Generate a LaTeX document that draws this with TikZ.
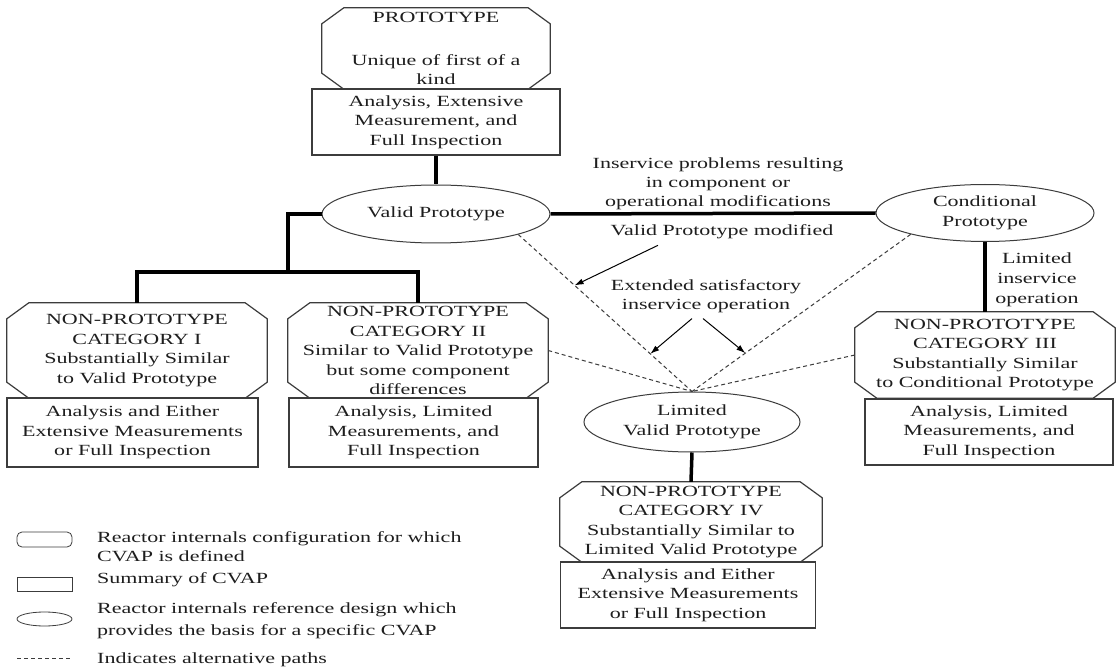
\documentclass[tikz,border=0pt]{standalone}
\usepackage{fontspec}
\setmainfont[FakeStretch=1.42]{Liberation Serif}
\usetikzlibrary{arrows.meta,calc,shapes.geometric}
\definecolor{ink}{HTML}{1E1E1E}
\definecolor{edge}{HTML}{3C3C3C}
\begin{document}
\begin{tikzpicture}[x=1pt,y=-1pt,
  every node/.style={font=\fontsize{15.5}{19.5}\selectfont, text=ink, inner sep=0pt, align=center},
  sumbox/.style={draw=edge, line width=1.2pt},
  refell/.style={ellipse, draw=edge, line width=1pt},
  octline/.style={draw=edge, line width=1.2pt},
  thickline/.style={line width=3.5pt, black},
  alt/.style={draw=edge, line width=1pt, dash pattern=on 4pt off 3pt},
  arr/.style={line width=1pt, black, -{Latex[length=9pt,width=6pt]}},
  legsym/.style={draw=edge, line width=0.8pt, minimum width=55, inner sep=0pt},
  legtxt/.style={anchor=west, align=left}
]
\path[use as bounding box, fill=white] (0,0) rectangle (1117,671);

% configuration (octagon) nodes
\node[minimum width=228, minimum height=81] (proto) at (436,48.5) {PROTOTYPE\\[23pt]Unique of first of a\\kind};
\node[minimum width=260, minimum height=95] (c1) at (137,350.5) {NON-PROTOTYPE\\CATEGORY I\\Substantially Similar\\to Valid Prototype};
\node[minimum width=260, minimum height=95] (c2) at (418,350.5) {NON-PROTOTYPE\\CATEGORY II\\Similar to Valid Prototype\\but some component\\differences};
\node[minimum width=260, minimum height=86] (c3) at (985,355) {NON-PROTOTYPE\\CATEGORY III\\Substantially Similar\\to Conditional Prototype};
\node[minimum width=262, minimum height=80] (c4) at (691,522) {NON-PROTOTYPE\\CATEGORY IV\\Substantially Similar to\\Limited Valid Prototype};
\foreach \n in {proto,c1,c2,c3,c4}{
  \draw[octline] ([xshift=22pt]\n.north west) -- ([xshift=-22pt]\n.north east) -- ([yshift=-16pt]\n.north east)
    -- ([yshift=16pt]\n.south east) -- ([xshift=-22pt]\n.south east) -- ([xshift=22pt]\n.south west)
    -- ([yshift=16pt]\n.south west) -- ([yshift=-16pt]\n.north west) -- cycle;
}

% summary boxes
\node[sumbox, minimum width=248, minimum height=66] (s0) at (436,122) {Analysis, Extensive\\Measurement, and\\Full Inspection};
\node[sumbox, minimum width=251, minimum height=69] (s1) at (132.5,432.5) {Analysis and Either\\Extensive Measurements\\or Full Inspection};
\node[sumbox, minimum width=249, minimum height=69] (s2) at (413.5,432.5) {Analysis, Limited\\Measurements, and\\Full Inspection};
\node[sumbox, minimum width=248, minimum height=66] (s3) at (989,432) {Analysis, Limited\\Measurements, and\\Full Inspection};
\node[sumbox, minimum width=255, minimum height=66] (s4) at (688,595) {Analysis and Either\\Extensive Measurements\\or Full Inspection};

% reference designs
\node[refell, minimum width=228, minimum height=58] (valid) at (436,214) {Valid Prototype};
\node[refell, minimum width=218, minimum height=57] (cond) at (985,213) {Conditional\\Prototype};
\node[refell, minimum width=216, minimum height=60] (lim) at (692,422) {Limited\\Valid Prototype};

% labels
\node[font=\fontsize{15.5}{19}\selectfont] (lblA) at (718,184) {Inservice problems resulting\\in component or\\operational modifications};
\node (lblB) at (722,232) {Valid Prototype modified};
\node[font=\fontsize{15.5}{18.5}\selectfont] (lblC) at (706,296) {Extended satisfactory\\inservice operation};
\node[font=\fontsize{15.5}{20}\selectfont] (lblD) at (1037,280) {Limited\\inservice\\operation};

% solid connectors
\coordinate (j) at (288,272);
\draw[thickline] (s0.south) -- (valid.north);
\draw[thickline] (valid.east) -- (cond.west);
\draw[thickline] (valid.west) -| (j);
\draw[thickline] (c1.north) |- (j) -| (c2.north);
\draw[thickline] (cond.south) -- (c3.north);
\draw[thickline] (lim.south) -- (c4.north);

% alternative paths
\draw[alt] (valid.-14.5) -- (lim.north);
\draw[alt] (cond.196) -- (lim.north);
\draw[alt] (c2.east) -- (lim.north);
\draw[alt] (c3.west) -- (lim.north);

% arrows
\coordinate (t1) at ($(valid.-14.5)!0.324!(lim.north)$);
\coordinate (t2) at ($(valid.-14.5)!0.76!(lim.north)$);
\coordinate (t3) at ($(cond.196)!0.756!(lim.north)$);
\draw[arr] ([xshift=-64pt,yshift=-6pt]lblB.south) -- (t1);
\draw[arr] ([xshift=-14pt,yshift=-6pt]lblC.south) -- (t2);
\draw[arr] ([xshift=-3pt,yshift=-6pt]lblC.south) -- (t3);

% legend
\node[legsym, rounded corners=5pt, minimum height=15] (sy1) at (44.5,539.5) {};
\node[legsym, minimum height=14] (sy2) at (44.5,584) {};
\node[legsym, ellipse, minimum height=14] (sy3) at (44.5,619) {};
\coordinate (dl1) at (17,658);
\coordinate (dl2) at (72,658);
\draw[draw=edge, line width=0.8pt, dash pattern=on 4pt off 3pt] (dl1) -- (dl2);
\node[legtxt, font=\fontsize{15.5}{19}\selectfont] (lg1) at (97,546.5) {Reactor internals configuration for which\\CVAP is defined};
\node[legtxt] (lg2) at (97,580) {Summary of CVAP};
\node[legtxt, font=\fontsize{15.5}{22}\selectfont] (lg3) at (97,621) {Reactor internals reference design which\\provides the basis for a specific CVAP};
\node[legtxt] (lg4) at (97,660) {Indicates alternative paths};
\end{tikzpicture}
\end{document}
